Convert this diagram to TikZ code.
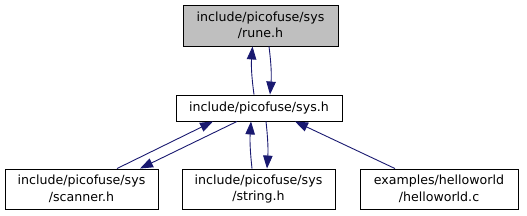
\documentclass[tikz,border=0pt]{standalone}
\usepackage{fontspec}
\setmainfont{DejaVu Sans}
\usetikzlibrary{arrows.meta}
\definecolor{edgeblue}{HTML}{191970}
\definecolor{hlfill}{HTML}{BFBFBF}
\tikzset{
  filebox/.style={draw=black, line width=0.9pt, fill=white, inner sep=0pt, align=center,
    font=\fontsize{12.6}{16.5}\selectfont},
  edge/.style={draw=edgeblue, line width=0.9pt, -{Triangle[length=13pt,width=9.5pt]}},
}
\begin{document}
\begin{tikzpicture}[x=1pt,y=1pt]
\useasboundingbox (0,0) rectangle (527,216);
\node[filebox, fill=hlfill, minimum width=155pt, minimum height=41pt] (top) at (260.5,190.5) {include/picofuse/sys\\/rune.h};
\node[filebox, minimum width=166pt, minimum height=26pt] (mid) at (259,108) {include/picofuse/sys.h};
\node[filebox, minimum width=153pt, minimum height=40pt] (scan) at (81.5,27) {include/picofuse/sys\\/scanner.h};
\node[filebox, minimum width=153pt, minimum height=40pt] (str) at (258.5,27) {include/picofuse/sys\\/string.h};
\node[filebox, minimum width=158pt, minimum height=40pt] (hw) at (439,27) {examples/helloworld\\/helloworld.c};
% top <-> mid
\draw[edge] ([xshift=-5pt]mid.north) to[bend left=6] ([xshift=-8pt]top.south);
\draw[edge] ([xshift=8.5pt]top.south) to[bend left=6] ([xshift=11pt]mid.north);
% mid <-> scanner
\draw[edge] ([xshift=35.5pt]scan.north) -- ([xshift=-46pt]mid.south);
\draw[edge] ([xshift=-22pt]mid.south) -- ([xshift=58.5pt]scan.north);
% mid <-> string
\draw[edge] ([xshift=-6.5pt]str.north) to[bend left=5] ([xshift=-8pt]mid.south);
\draw[edge] ([xshift=7pt]mid.south) to[bend left=5] ([xshift=8.5pt]str.north);
% helloworld -> mid
\draw[edge] ([xshift=-44pt]hw.north) -- ([xshift=36pt]mid.south);
\end{tikzpicture}
\end{document}
